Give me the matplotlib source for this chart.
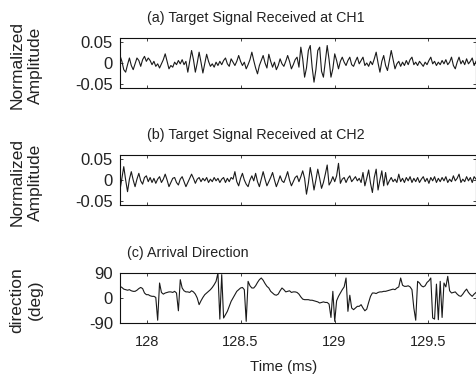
import numpy as np
import matplotlib.pyplot as plt

plt.rcParams['font.family'] = ['Liberation Sans', 'DejaVu Sans']
plt.rcParams['axes.unicode_minus'] = False

# sampling window (ms)
t_start = 127.858
t_end = 129.753

# channel 1 amplitude, in thousandths
ch1 = [18, 4, -16, -22, -4, 12, -6, -16, -2, 12, 6, -8, 8, 16, 4, 12, 6, -4, 4, -8,
       -2, -12, -2, 8, 22, 4, -14, -6, -10, 2, -4, 6, -2, 8, -4, 4, -22, 4, 30, 8,
       -22, 0, 26, 2, -24, -2, 21, 4, -8, -2, -10, 2, -6, 4, -4, 6, 12, -2, -8, 10,
       2, -6, 4, 18, 4, -6, 2, -14, -4, 8, 26, 6, -12, -26, -6, 6, 18, 0, -12, 21,
       4, -10, 2, -16, -6, 10, -2, -8, 4, 18, 4, -14, -4, 8, 14, -10, 38, 10, -34, -12,
       30, 42, -10, -46, -16, 30, 38, -20, -34, 4, 42, 8, -34, -14, 22, 6, -14, 4, 14, 2,
       -6, 6, 14, -4, -8, 4, 14, -2, 6, 14, -6, 0, -8, 4, -4, 10, 26, 0, -22, 4,
       18, -6, -18, 6, 30, 8, -14, -2, 4, -8, 2, -6, 6, -4, 8, 14, -4, 2, -6, 4,
       -2, -8, 2, -4, 6, 14, -2, 4, -6, 2, -4, 6, -2, 8, -4, 2, 14, -6, -14, 2,
       14, -2, 6, -4, 10, -2, 4, 12, -6, 4]

# channel 2 amplitude, in thousandths
ch2 = [-24, 4, 32, 0, -28, 2, 20, 0, -16, 2, 16, -2, -10, 6, 10, -4, 6, -6, 4, -8,
       2, 8, -6, 2, 14, 0, -16, -6, 4, 6, -6, -12, 2, 8, -4, -16, -6, 4, 14, 4,
       -8, 2, 6, -4, 4, -2, 6, -6, 2, -4, 6, -2, 4, -6, 2, 6, -6, 4, -4, 6,
       2, 20, -4, -14, 4, 16, 0, -10, -16, 0, 10, -2, 16, -4, -16, 2, 20, 2, -14, -4,
       6, 18, 0, -16, -4, 10, -2, -6, 6, 20, 0, -14, -4, 6, 10, -4, 8, 22, 4, -34,
       -8, 30, 6, -24, 0, 26, 4, -20, -6, 14, 36, -12, -4, 8, -4, 10, 40, -8, 2, 6,
       -6, 4, 10, -4, 2, 8, -2, 4, -6, 18, -14, 4, 24, -8, -30, 6, 26, -24, 0, 22,
       -14, 18, -12, -2, 6, -4, 2, -6, 14, -4, 4, -6, 6, -2, 8, -6, 4, -4, 6, -6,
       2, 8, -4, 4, -8, 6, -2, 8, -6, 4, -4, 6, -2, 8, -6, 2, -4, 10, -2, 4,
       14, -6, 2, -4, 8, -2, 6, -6, 8, 2]

# estimated arrival direction (deg)
direction = [42, 38, 32, 30, 28, 30, 26, 24, 24, 28, 34, 38, 34, 18, 12, 12, 8, 6, 6, 2,
             -80, 54, 20, 14, 18, 20, 22, 22, 20, 24, 18, -46, 66, 36, 26, 22, 22, 20, 26, 22,
             14, 0, -24, -10, 2, 12, 18, 24, 30, 38, 48, 60, 90, -76, 84, -72, -60, -48, -30, -12,
             0, 12, 24, 30, 36, 38, 30, -84, 60, 44, 36, 36, 44, 56, 66, 72, 64, 52, 42, 36,
             24, 18, 12, 10, 14, 26, 36, 30, 22, 24, 26, 20, 22, 22, 20, 14, 4, -4, -6, -6,
             -6, -8, -8, -10, -12, -14, -18, -16, -14, -16, -16, -22, -70, 24, -84, -10, 6, 18, 30, 40,
             72, -48, 10, -36, -42, -36, -30, -30, -24, -36, -46, -40, -16, 6, 18, 18, 16, 20, 22, 22,
             24, 24, 26, 28, 30, 32, 30, 36, 40, 72, 46, 42, 42, 44, 40, 30, -36, -80, 60, 54,
             44, 40, 44, 56, 62, 72, -72, -76, 50, -78, 60, -70, 54, 40, 78, 26, 18, 20, 22, 14,
             8, 6, 14, 24, 32, 20, 12, 6, 14, 20]

titles = ['(a) Target Signal Received at CH1',
          '(b) Target Signal Received at CH2',
          '(c) Arrival Direction']
title_pos = [(147, 18), (147, 135), (127, 253)]
ylabels = ['Normalized\nAmplitude', 'Normalized\nAmplitude', 'direction\n(deg)']
xticks = [128, 128.5, 129, 129.5]
xticklabels = ['128', '128.5', '129', '129.5']

W, H = 477, 378
fig = plt.figure(figsize=(W / 100, H / 100), dpi=100)

t = np.linspace(t_start, t_end, len(ch1))
series = [np.array(ch1) / 1000.0, np.array(ch2) / 1000.0, np.array(direction, float)]
tops = [38, 155, 273]

for k in range(3):
    top = tops[k]
    ax = fig.add_axes([120 / W, 1 - (top + 50) / H, 356 / W, 50 / H])
    ax.plot(t, series[k], color='#1a1a1a', lw=0.8)
    ax.set_xlim(t_start, t_end)
    if k < 2:
        ax.set_ylim(-0.06, 0.06)
        ax.set_yticks([-0.05, 0, 0.05])
        ax.set_yticklabels(['-0.05', '0', '0.05'])
    else:
        ax.set_ylim(-90, 90)
        ax.set_yticks([-90, 0, 90])
    ax.set_xticks(xticks)
    ax.set_xticklabels(xticklabels)
    ax.tick_params(direction='in', length=2.5, width=0.6, top=True, right=True,
                   colors='#222222')
    ax.tick_params(axis='y', pad=5, labelsize=12)
    ax.tick_params(axis='x', pad=9, labelsize=10.5)
    if k < 2:
        ax.tick_params(labelbottom=False)
    for s in ax.spines.values():
        s.set_linewidth(0.8)
        s.set_color('#111111')
    fig.text(title_pos[k][0] / W, 1 - title_pos[k][1] / H, titles[k],
             fontsize=10.3, ha='left', va='center', color='#222222')
    fig.text(26 / W, 1 - (top + 27) / H, ylabels[k], rotation=90, fontsize=12.5,
             ha='center', va='center', multialignment='center', color='#222222',
             linespacing=1.25)

fig.text(284 / W, 1 - 367 / H, 'Time (ms)', fontsize=10.8, ha='center', va='center',
         color='#222222')

fig.savefig('out.png', dpi=100)
